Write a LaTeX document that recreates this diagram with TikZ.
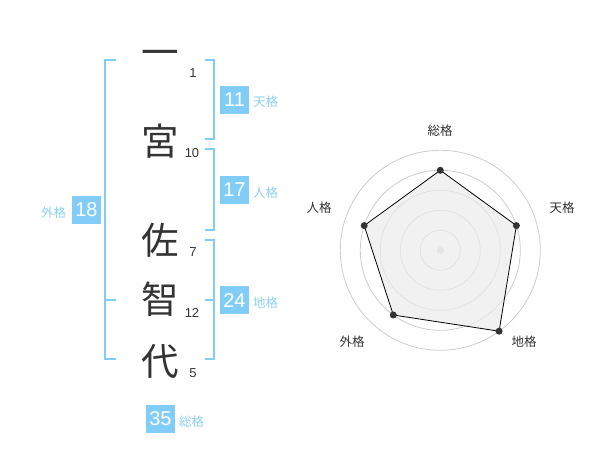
\documentclass[tikz,border=0pt]{standalone}
\usepackage{fontspec}
\setmainfont{Liberation Sans}
\newfontfamily\jp{Noto Sans CJK JP}
\definecolor{kblue}{HTML}{82CDF8}
\definecolor{klabel}{HTML}{8CCFF5}
\definecolor{kdark}{HTML}{333333}
\definecolor{kgrid}{HTML}{CCCCCC}
\definecolor{kfill}{HTML}{EBEBEB}
\tikzset{
  bigchar/.style={font=\jp\fontsize{37.5}{38}\selectfont, text=kdark, inner sep=0pt},
  strokenum/.style={font=\fontsize{13}{13}\selectfont, text=kdark, inner sep=0pt},
  brk/.style={draw=kblue, line width=2pt},
  numbox/.style={fill=kblue, text=white, minimum width=29pt, minimum height=28pt, inner sep=0pt, font=\fontsize{20}{20}\selectfont},
  kaku/.style={font=\jp\fontsize{12.5}{13}\selectfont, text=klabel, inner sep=0pt, anchor=west},
  axlabel/.style={font=\jp\fontsize{12.5}{13}\selectfont, text=kdark, inner sep=0pt},
  ring/.style={draw=kgrid, line width=0.8pt},
  dot/.style={circle, fill=kdark, inner sep=0pt, minimum size=7pt}
}
\begin{document}
\begin{tikzpicture}[x=1pt,y=-1pt]
\useasboundingbox (0,0) rectangle (600,470);
% characters
\node[bigchar] (c1) at (160,58) {一};
\node[bigchar] (c2) at (160,141) {宮};
\node[bigchar] (c3) at (160,240) {佐};
\node[bigchar] (c4) at (160,299) {智};
\node[bigchar] (c5) at (160,361) {代};
\node[strokenum] (n1) at (193,73) {1};
\node[strokenum] (n2) at (192,153) {10};
\node[strokenum] (n3) at (193,252) {7};
\node[strokenum] (n4) at (192,313) {12};
\node[strokenum] (n5) at (193,373) {5};
% brackets
\draw[brk] (116,60) -- (105,60) -- (105,359) -- (116,359);
\draw[brk] (105,300) -- (116,300);
\draw[brk] (205,60) -- (214,60) -- (214,139) -- (205,139);
\draw[brk] (205,149) -- (214,149) -- (214,230) -- (205,230);
\draw[brk] (205,240) -- (214,240) -- (214,359) -- (205,359);
\draw[brk] (205,300) -- (214,300);
% boxes
\node[numbox] (b11) at (234.5,100) {11};
\node[kaku] (t11) at (253,102) {天格};
\node[numbox] (b17) at (234.5,190) {17};
\node[kaku] (t17) at (253,193) {人格};
\node[numbox] (b24) at (234.5,300.5) {24};
\node[kaku] (t24) at (253,303) {地格};
\node[numbox] (b35) at (160.5,419) {35};
\node[kaku] (t35) at (179,422) {総格};
\node[numbox] (b18) at (86.5,210) {18};
\node[kaku, anchor=center] (t18) at (53.5,213) {外格};
% radar
\coordinate (ctr) at (440.3,250.3);
\foreach \r in {20,40,60,80,100} \draw[ring] (ctr) circle[radius=\r];
\fill[kgrid!80!white] (ctr) circle[radius=3.5];
\coordinate (pS) at (440.3,170.3);
\coordinate (pT) at (516.4,225.6);
\coordinate (pC) at (499.1,331.2);
\coordinate (pG) at (393.3,315.0);
\coordinate (pJ) at (364.2,225.6);
\filldraw[fill=kfill, fill opacity=0.7, draw=black, line width=0.8pt] (pS) -- (pT) -- (pC) -- (pG) -- (pJ) -- cycle;
\foreach \p in {pS,pT,pC,pG,pJ} \node[dot] at (\p) {};
\node[axlabel] (lS) at (440,131) {総格};
\node[axlabel] (lT) at (562,208) {天格};
\node[axlabel] (lJ) at (319,208) {人格};
\node[axlabel] (lG) at (352,342) {外格};
\node[axlabel] (lC) at (524,342) {地格};
\end{tikzpicture}
\end{document}
